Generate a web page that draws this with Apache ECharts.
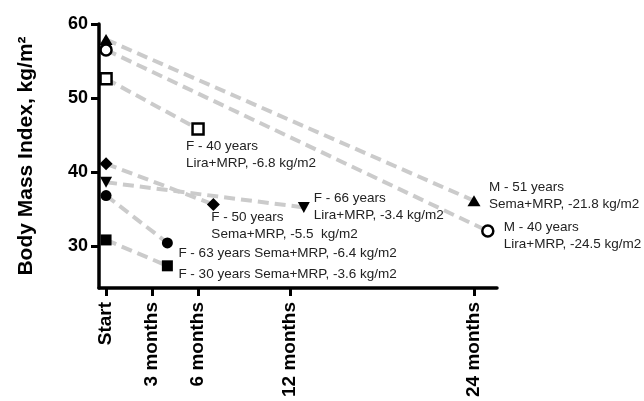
<!DOCTYPE html>
<html>
<head>
<meta charset="utf-8">
<script src="https://cdn.jsdelivr.net/npm/echarts@6/dist/echarts.min.js"></script>
<style>
html,body{margin:0;padding:0;background:#fff;}
#c{width:644px;height:401px;}
</style>
</head>
<body>
<div id="c"></div>
<script>
// Tick labels
const tickMonths = [0, 3, 6, 12, 24];
const tickLabels = ['Start', '3 months', '6 months', '12 months', '24 months'];
const yTicks = [30, 40, 50, 60];

// Patients
const patientLabels = [
  'M - 51 years\nSema+MRP, -21.8 kg/m2',
  'M - 40 years\nLira+MRP, -24.5 kg/m2',
  'F - 40 years\nLira+MRP, -6.8 kg/m2',
  'F - 50 years\nSema+MRP, -5.5  kg/m2',
  'F - 66 years\nLira+MRP, -3.4 kg/m2',
  'F - 63 years Sema+MRP, -6.4 kg/m2',
  'F - 30 years Sema+MRP, -3.6 kg/m2'
];
const startMonth = [0, 0, 0, 0, 0, 0, 0];
const endMonth = [24, 24.9, 6, 7, 12.9, 4, 4];
const startBMI = [57.9, 56.5, 52.6, 41.1, 38.6, 36.8, 30.8];
const endBMI = [36.1, 32.0, 45.8, 35.6, 35.2, 30.4, 27.3];

// Styles (marker type, size, open/filled, rotation, label offset from point [left, first-line centre])
const markerStyles = [
  {symbol: 'triangle', size: [13, 11], open: false, rotate: 0, off: [15, -13]},
  {symbol: 'circle', size: 11, open: true, rotate: 0, off: [16, -4]},
  {symbol: 'rect', size: 11, open: true, rotate: 0, off: [-12, 17]},
  {symbol: 'diamond', size: [13, 13], open: false, rotate: 0, off: [-2, 13]},
  {symbol: 'triangle', size: [12, 11], open: false, rotate: 180, off: [10, -9]},
  {symbol: 'circle', size: 11, open: false, rotate: 0, off: [11, 10]},
  {symbol: 'rect', size: 11, open: false, rotate: 0, off: [11, 8]}
];
const LH = 17;

const series = [];
patientLabels.forEach(function (lab, i) {
  const pts = [[startMonth[i], startBMI[i]], [endMonth[i], endBMI[i]]];
  series.push({
    type: 'line',
    data: pts,
    showSymbol: false,
    symbol: 'none',
    silent: true,
    z: 2,
    lineStyle: {color: '#cbcbcb', width: 4, type: [11, 6], opacity: 1}
  });
});
patientLabels.forEach(function (lab, i) {
  const st = markerStyles[i];
  series.push({
    type: 'scatter',
    z: 5,
    symbol: st.symbol,
    symbolSize: st.size,
    symbolRotate: st.rotate,
    itemStyle: st.open
      ? {color: '#ffffff', borderColor: '#000', borderWidth: 2.5, opacity: 1}
      : {color: '#000', borderWidth: 0, opacity: 1},
    data: [
      [startMonth[i], startBMI[i]],
      {
        value: [endMonth[i], endBMI[i]],
        label: {
          show: true,
          position: 'inside',
          align: 'left',
          verticalAlign: 'top',
          offset: [st.off[0], st.off[1] - LH / 2],
          formatter: lab,
          color: '#222',
          fontFamily: 'Liberation Sans, Arial, sans-serif',
          fontSize: 13.5,
          lineHeight: LH,
          textBorderWidth: 0
        }
      }
    ]
  });
});

const chart = echarts.init(document.getElementById('c'), null, {renderer: 'canvas'});
chart.setOption({
  animation: false,
  backgroundColor: '#ffffff',
  grid: {left: 99, right: 147, top: 24, bottom: 113, containLabel: false},
  xAxis: {
    type: 'value',
    min: -0.46,
    max: 25.5,
    splitLine: {show: false},
    axisLine: {show: true, onZero: false, lineStyle: {color: '#000', width: 3.5}},
    axisTick: {show: true, length: 8, lineStyle: {color: '#000', width: 3}, customValues: tickMonths},
    axisLabel: {
      show: true,
      rotate: 90,
      margin: 14,
      customValues: tickMonths,
      formatter: function (v) { const k = tickMonths.indexOf(v); return k >= 0 ? tickLabels[k] : ''; },
      color: '#000',
      fontFamily: 'Liberation Sans, Arial, sans-serif',
      fontWeight: 'bold',
      fontSize: 19
    }
  },
  yAxis: {
    type: 'value',
    min: 24.3,
    max: 60,
    name: 'Body Mass Index, kg/m²',
    nameLocation: 'middle',
    nameRotate: 90,
    nameGap: 62,
    nameTextStyle: {
      color: '#000',
      fontFamily: 'Liberation Sans, Arial, sans-serif',
      fontWeight: 'bold',
      fontSize: 21
    },
    splitLine: {show: false},
    axisLine: {show: true, onZero: false, lineStyle: {color: '#000', width: 3.5}},
    axisTick: {show: true, length: 8, lineStyle: {color: '#000', width: 3}, customValues: yTicks},
    axisLabel: {
      show: true,
      margin: 11,
      customValues: yTicks,
      color: '#000',
      fontFamily: 'Liberation Sans, Arial, sans-serif',
      fontWeight: 'bold',
      fontSize: 18
    }
  },
  series: series
});
</script>
</body>
</html>
